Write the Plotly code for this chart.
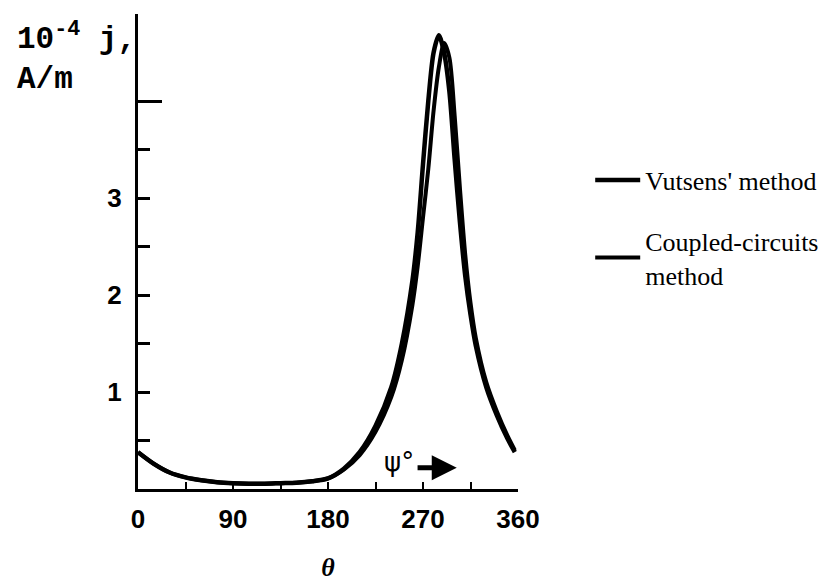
import plotly.graph_objects as go

theta = [0, 15, 30, 45, 60, 75, 90, 105, 120, 135, 150, 165, 180, 195, 210, 225,
         240, 250, 260, 265, 270, 275, 280, 285, 290, 295, 300, 305, 310, 315,
         320, 330, 340, 350, 357]
vutsens = [0.38, 0.26, 0.17, 0.12, 0.09, 0.07, 0.06, 0.055, 0.055, 0.06, 0.065, 0.08,
           0.11, 0.21, 0.38, 0.65, 1.05, 1.5, 2.15, 2.65, 3.35, 4.0, 4.5, 4.68, 4.5,
           4.1, 3.4, 2.75, 2.2, 1.8, 1.48, 1.05, 0.76, 0.52, 0.38]
coupled = [0.38, 0.26, 0.17, 0.12, 0.09, 0.07, 0.06, 0.055, 0.055, 0.06, 0.065, 0.08,
           0.11, 0.2, 0.35, 0.59, 0.95, 1.33, 1.9, 2.3, 2.8, 3.3, 3.9, 4.35, 4.6,
           4.45, 3.85, 3.1, 2.42, 1.92, 1.56, 1.1, 0.8, 0.55, 0.4]

x_ticks = [0, 90, 180, 270, 360]
x_minor = [45, 135, 225, 315]
y_ticks = [0.5, 1, 1.5, 2, 2.5, 3, 3.5]
y_text = ["", "1", "", "2", "", "3", ""]

fig = go.Figure()
fig.add_trace(go.Scatter(x=theta, y=vutsens, mode="lines", name="Vutsens' method",
                         legendgroup="a",
                         line=dict(color="black", width=4.5, shape="spline", smoothing=0.8)))
fig.add_trace(go.Scatter(x=theta, y=coupled, mode="lines", name="Coupled-circuits<br>method",
                         legendgroup="b",
                         line=dict(color="black", width=4, shape="spline", smoothing=0.8)))

tickfont = dict(family="Liberation Sans", size=26, color="black", weight="bold")

fig.update_layout(
    width=836, height=582,
    margin=dict(l=138, r=314, t=14, b=93),
    paper_bgcolor="white", plot_bgcolor="white",
    showlegend=True,
    legend=dict(x=1.19, y=0.70, xanchor="left", yanchor="top",
                font=dict(family="Liberation Serif", size=26, color="black"),
                tracegroupgap=24, itemwidth=45, bgcolor="rgba(0,0,0,0)"),
    xaxis=dict(range=[0, 360], tickvals=x_ticks, ticktext=[str(v) for v in x_ticks],
               automargin=False,
               showgrid=False, zeroline=False, showline=True, linecolor="black", linewidth=3,
               ticks="inside", ticklen=7, tickwidth=2, tickcolor="black",
               minor=dict(tickvals=x_minor, ticks="inside", ticklen=7, tickwidth=2, tickcolor="black"),
               tickfont=tickfont, ticklabelstandoff=5,
               title=dict(text="<b><i>θ</i></b>", font=dict(family="Liberation Serif", size=26, color="black"),
                          standoff=56)),
    yaxis=dict(range=[0, 4.9], tickvals=y_ticks, ticktext=y_text, automargin=False,
               showgrid=False, zeroline=False, showline=True, linecolor="black", linewidth=3,
               ticks="inside", ticklen=12, tickwidth=3, tickcolor="black",
               tickfont=tickfont, ticklabelstandoff=8),
    yaxis2=dict(range=[0, 4.9], overlaying="y", side="left", tickvals=[4], ticktext=[" "],
                automargin=False,
                showgrid=False, zeroline=False, showline=False,
                ticks="inside", ticklen=24, tickwidth=3, tickcolor="black"),
)
fig.add_trace(go.Scatter(x=[None], y=[None], yaxis="y2", showlegend=False, hoverinfo="skip"))

fig.add_annotation(xref="paper", yref="paper", x=-0.325, y=0.998, xanchor="left", yanchor="top",
                   text="10<sup>-4</sup> j,<br>A/m", showarrow=False, align="left",
                   font=dict(family="Liberation Mono", size=31, color="black", weight="bold"))
fig.add_annotation(x=247, y=0.28, text="ψ°", showarrow=False,
                   font=dict(family="DejaVu Sans", size=26, color="black"))
fig.add_annotation(x=302, y=0.22, ax=262, ay=0.22, axref="x", ayref="y", xref="x", yref="y",
                   text=" ", showarrow=True, arrowhead=2, arrowsize=1, arrowwidth=5,
                   arrowcolor="black")

fig.write_html("out.html")
